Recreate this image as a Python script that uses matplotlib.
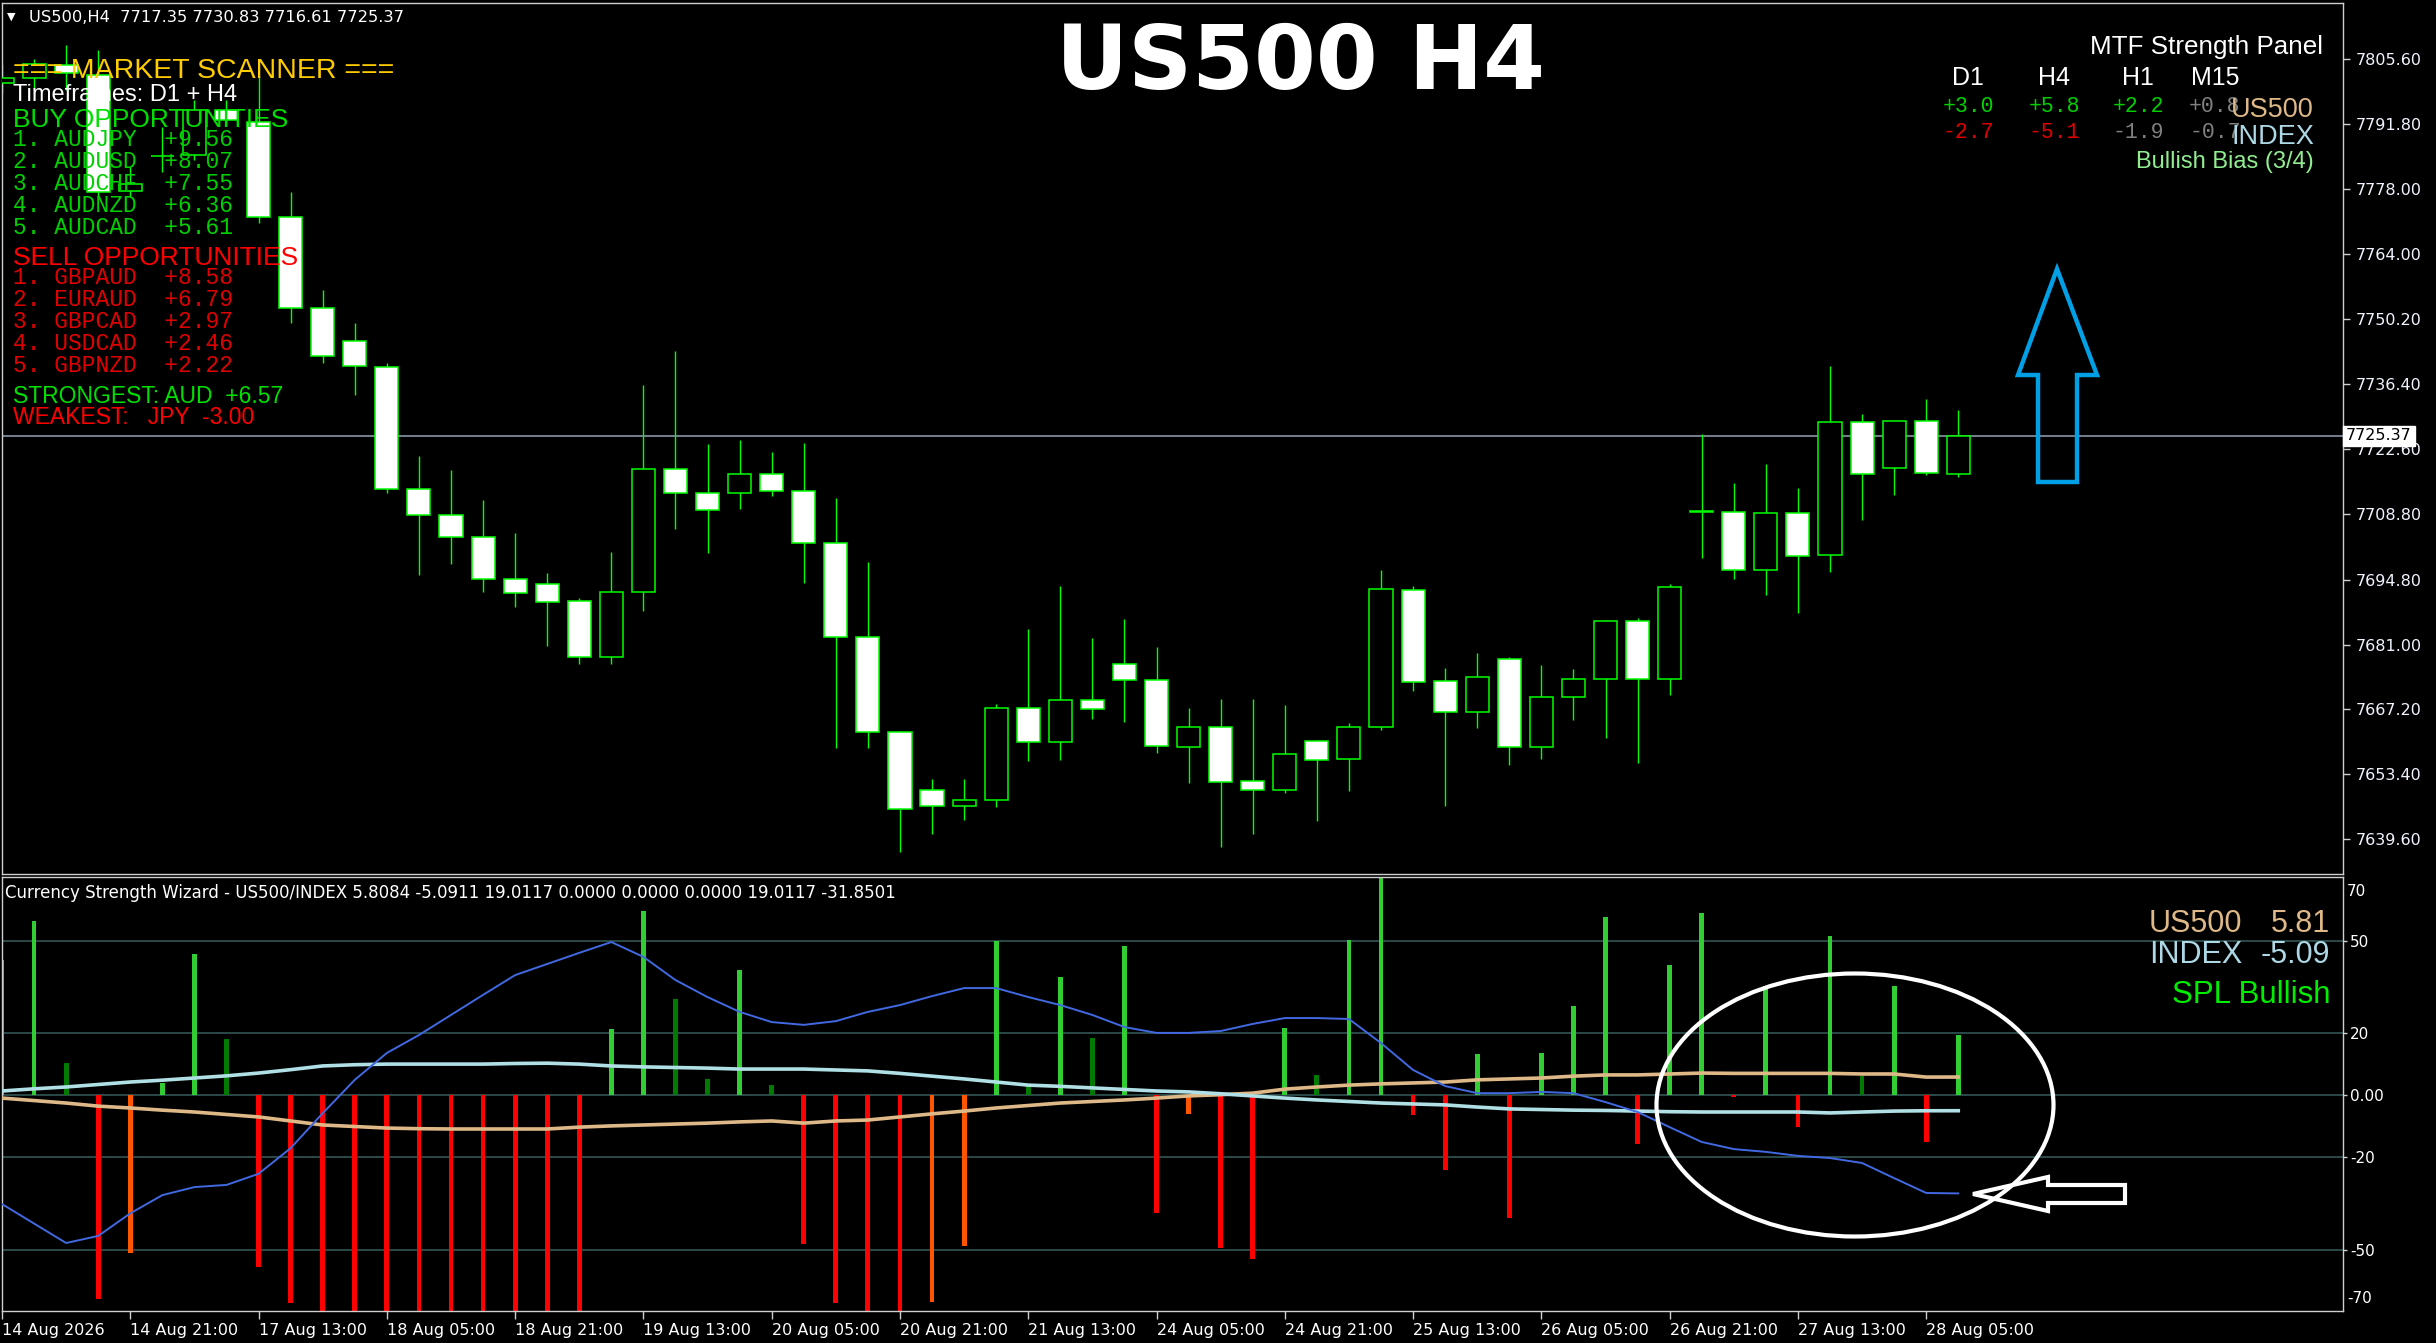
import matplotlib
matplotlib.use('Agg')
import matplotlib.pyplot as plt
from matplotlib.patches import Polygon, Ellipse
import matplotlib.transforms as mtransforms
import numpy as np

W, H = 2436, 1343
DPI = 100

# ---------------- data ----------------
opens = [7800.5, 7801.5, 7804.3, 7802.2, 7777.5, 7785.0, 7785.2, 7794.7, 7792.2, 7772.0,
         7752.6, 7745.6, 7740.1, 7714.1, 7708.6, 7703.9, 7694.9, 7693.9, 7690.3, 7678.4,
         7692.2, 7718.4, 7713.2, 7713.2, 7717.3, 7713.7, 7702.6, 7682.6, 7662.4, 7650.1,
         7646.7, 7647.9, 7667.5, 7660.3, 7669.2, 7676.9, 7673.5, 7659.2, 7663.5, 7652.0,
         7650.1, 7660.5, 7656.7, 7663.5, 7692.6, 7673.2, 7666.7, 7677.9, 7659.2, 7669.8,
         7673.7, 7686.0, 7673.7, 7709.4, 7709.2, 7696.9, 7709.0, 7700.1, 7728.4, 7718.6,
         7728.6, 7717.35]
highs = [7804.3, 7805.6, 7808.6, 7807.5, 7782.6, 7791.1, 7796.9, 7796.9, 7802.0, 7777.3,
         7756.4, 7749.4, 7740.9, 7721.1, 7718.1, 7711.8, 7704.7, 7696.2, 7690.9, 7700.7,
         7736.2, 7743.5, 7723.7, 7724.5, 7722.0, 7723.9, 7712.2, 7698.6, 7662.6, 7652.4,
         7652.4, 7668.4, 7684.3, 7693.5, 7682.4, 7686.4, 7680.5, 7667.5, 7669.4, 7669.4,
         7668.1, 7660.7, 7664.3, 7696.9, 7693.5, 7676.0, 7679.2, 7678.3, 7676.7, 7675.8,
         7686.2, 7686.7, 7693.9, 7725.8, 7715.4, 7719.4, 7714.3, 7740.3, 7730.1, 7728.6,
         7733.2, 7730.83]
lows = [7798.4, 7799.0, 7799.0, 7776.2, 7776.2, 7781.5, 7784.1, 7791.5, 7770.7, 7749.4,
        7740.9, 7734.1, 7713.2, 7695.8, 7698.1, 7692.2, 7689.0, 7680.7, 7676.9, 7676.9,
        7688.1, 7705.6, 7700.5, 7709.8, 7712.6, 7694.1, 7659.0, 7659.0, 7636.9, 7640.7,
        7643.7, 7646.4, 7656.2, 7656.4, 7665.2, 7664.5, 7657.9, 7651.5, 7637.9, 7640.7,
        7649.4, 7643.5, 7649.8, 7662.8, 7671.1, 7646.7, 7663.2, 7655.4, 7656.7, 7664.9,
        7661.1, 7655.8, 7670.3, 7699.4, 7694.9, 7691.5, 7687.7, 7696.4, 7707.5, 7712.8,
        7717.1, 7716.61]
closes = [7801.5, 7804.5, 7802.6, 7777.3, 7779.0, 7784.9, 7794.7, 7792.6, 7772.0, 7752.6,
          7742.4, 7740.3, 7714.1, 7708.6, 7703.9, 7694.9, 7692.0, 7690.1, 7678.4, 7692.2,
          7718.4, 7713.2, 7709.6, 7717.3, 7713.7, 7702.6, 7682.6, 7662.4, 7646.0, 7646.7,
          7647.9, 7667.5, 7660.3, 7669.2, 7667.3, 7673.5, 7659.4, 7663.5, 7651.8, 7650.1,
          7657.7, 7656.4, 7663.5, 7692.8, 7673.0, 7666.7, 7674.1, 7659.2, 7669.8, 7673.7,
          7686.0, 7673.7, 7693.2, 7709.2, 7696.9, 7709.0, 7699.8, 7728.4, 7717.3, 7728.6,
          7717.5, 7725.37]
current_price = 7725.37

price_ticks = [7805.60, 7791.80, 7778.00, 7764.00, 7750.20, 7736.40, 7722.60,
               7708.80, 7694.80, 7681.00, 7667.20, 7653.40, 7639.60]

date_tick_bars = [0, 4, 8, 12, 16, 20, 24, 28, 32, 36, 40, 44, 48, 52, 56, 60]
date_labels = ['14 Aug 2026', '14 Aug 21:00', '17 Aug 13:00', '18 Aug 05:00', '18 Aug 21:00',
               '19 Aug 13:00', '20 Aug 05:00', '20 Aug 21:00', '21 Aug 13:00', '24 Aug 05:00',
               '24 Aug 21:00', '25 Aug 13:00', '26 Aug 05:00', '26 Aug 21:00', '27 Aug 13:00',
               '28 Aug 05:00']

hist_values = [43.7, 56.3, 10.4, -66.0, -51.1, 3.9, 45.6, 18.1, -55.7, -67.3,
               -75, -75, -75, -75, -75, -75, -75, -75, -75, 21.4,
               59.5, 31.1, 5.2, 40.5, 3.2, -48.2, -67.3, -75, -75, -67.0,
               -48.9, 49.8, 3.6, 38.2, 18.4, 48.2, -38.2, -6.1, -49.5, -53.1,
               21.7, 6.5, 50.2, 75, -6.5, -24.3, 13.3, -39.8, 13.6, 28.8,
               57.6, -15.9, 42.1, 58.9, -0.5, 35.3, -10.4, 51.5, 6.1, 35.3,
               -15.2, 19.4]
# signal strength of each histogram bar: 's' strong, 'w' weak
hist_strength = ['s', 's', 'w', 's', 'w', 's', 's', 'w', 's', 's',
                 's', 's', 's', 's', 's', 's', 's', 's', 's', 's',
                 's', 'w', 'w', 's', 'w', 's', 's', 's', 's', 'w',
                 'w', 's', 'w', 's', 'w', 's', 's', 'w', 's', 's',
                 's', 'w', 's', 's', 's', 's', 's', 's', 's', 's',
                 's', 's', 's', 's', 's', 's', 's', 's', 'w', 's',
                 's', 's']
spl_line = [-35.3, -41.6, -47.9, -45.6, -38.3, -32.4, -29.8, -29.1, -25.5, -17.2,
            -5.9, 4.9, 13.6, 19.4, 25.9, 32.4, 38.8, 42.4, 46.0, 49.5,
            44.7, 37.2, 31.7, 26.9, 23.6, 22.7, 23.9, 26.9, 29.1, 32.0,
            34.6, 34.6, 31.7, 29.1, 25.9, 22.0, 20.1, 20.1, 20.7, 23.0,
            24.9, 24.9, 24.6, 16.8, 8.1, 2.9, 0.6, 0.6, 1.0, 0.6,
            -2.3, -5.5, -10.4, -15.2, -17.5, -18.4, -19.7, -20.4, -22.0, -26.9,
            -31.7, -31.85]
index_line = [1.3, 2.0, 2.6, 3.4, 4.2, 4.8, 5.5, 6.2, 7.1, 8.2,
              9.4, 9.8, 10.0, 10.0, 10.0, 10.0, 10.2, 10.3, 10.0, 9.4,
              9.1, 8.9, 8.7, 8.4, 8.4, 8.4, 8.1, 7.8, 7.0, 6.1,
              5.2, 4.2, 3.2, 2.8, 2.3, 1.8, 1.3, 1.0, 0.4, -0.3,
              -1.0, -1.6, -2.1, -2.6, -2.9, -3.2, -3.9, -4.5, -4.7, -4.9,
              -5.0, -5.2, -5.4, -5.5, -5.5, -5.5, -5.5, -5.8, -5.5, -5.2,
              -5.1, -5.09]
us500_line = [-1.0, -1.8, -2.6, -3.6, -4.2, -4.9, -5.5, -6.3, -7.1, -8.4,
              -9.7, -10.2, -10.7, -10.9, -11.0, -11.0, -11.0, -11.0, -10.4, -10.0,
              -9.7, -9.4, -9.1, -8.7, -8.4, -9.1, -8.4, -8.1, -7.1, -6.1,
              -5.2, -4.2, -3.4, -2.6, -2.1, -1.6, -1.0, -0.3, 0.1, 0.6,
              1.9, 2.6, 3.2, 3.6, 3.9, 4.2, 4.9, 5.2, 5.5, 6.1,
              6.5, 6.5, 6.8, 7.1, 7.0, 7.0, 7.0, 7.0, 6.8, 6.8,
              5.8, 5.81]
ind_levels = [50, 20, 0, -20, -50]

buy_pairs = ['AUDJPY', 'AUDUSD', 'AUDCHF', 'AUDNZD', 'AUDCAD']
buy_scores = [9.56, 8.07, 7.55, 6.36, 5.61]
sell_pairs = ['GBPAUD', 'EURAUD', 'GBPCAD', 'USDCAD', 'GBPNZD']
sell_scores = [8.58, 6.79, 2.97, 2.46, 2.22]

mtf_tfs = ['D1', 'H4', 'H1', 'M15']
mtf_us500 = [3.0, 5.8, 2.2, 0.8]
mtf_index = [-2.7, -5.1, -1.9, -0.7]

# ---------------- figure ----------------
fig = plt.figure(figsize=(W / DPI, H / DPI), dpi=DPI, facecolor='black')

def fx(x):
    return x / W

def fy(y):
    return 1 - y / H

def ftext(x, y, s, **kw):
    return fig.text(fx(x), fy(y), s, **kw)

SANS = ['Liberation Sans', 'DejaVu Sans']
MONO = ['Liberation Mono', 'DejaVu Sans Mono']
UI = ['DejaVu Sans']
SPINE = '#cfcfcf'

ax = fig.add_axes([fx(2), fy(874), (2343 - 2) / W, (874 - 3) / H], facecolor='black')
ax2 = fig.add_axes([fx(2), fy(1311), (2343 - 2) / W, (1311 - 877) / H], facecolor='black')

n = len(opens)
idx = np.arange(n)
o = np.array(opens); c = np.array(closes); hi = np.array(highs); lo = np.array(lows)

XMAX = (2343 - 2) / 32.07
for a in (ax, ax2):
    a.set_xlim(0, XMAX)
    for s in a.spines.values():
        s.set_color(SPINE)
        s.set_linewidth(1.0)

# ---- main chart ----
ax.set_ylim(7632.17, 7817.5)
ax.axhline(current_price, color='#8a96a8', lw=1.2, zorder=1)
ax.vlines(idx, lo, hi, color='#00ff00', lw=1.0, zorder=2)
bull = c >= o
bottoms = np.minimum(o, c)
heights = np.maximum(np.abs(c - o), 0.15)
ax.bar(idx, heights, bottom=bottoms, width=0.72,
       color=np.where(bull, 'black', 'white'), edgecolor='#00ff00',
       linewidth=1.1, zorder=3)

ax.set_xticks([])
ax.yaxis.tick_right()
ax.set_yticks(price_ticks, [f'{v:.2f}' for v in price_ticks])
ax.tick_params(axis='y', direction='out', length=5, width=1, color=SPINE,
               labelcolor='#f0f4ff', labelsize=11.5, pad=4)
for lab in ax.get_yticklabels():
    lab.set_family(UI)

trans = mtransforms.blended_transform_factory(ax.transAxes, ax.transData)
ax.text(1.0 + 3 / 2341, current_price, f'{current_price:.2f}', transform=trans,
        ha='left', va='center', fontsize=11.5, family=UI, color='black',
        bbox=dict(boxstyle='square,pad=0.18', fc='white', ec='white'),
        zorder=10, clip_on=False)

# ---- indicator ----
ax2.set_ylim(-69.9, 70.55)
for lv in ind_levels:
    ax2.axhline(lv, color='#2f4f4f', lw=1.3, zorder=1)
hv = np.array(hist_values)
bar_cols = []
for v, s in zip(hist_values, hist_strength):
    if v >= 0:
        bar_cols.append('#32cd32' if s == 's' else '#007a00')
    else:
        bar_cols.append('#ff0000' if s == 's' else '#ff5500')
ax2.bar(idx, hv, width=0.15, color=bar_cols, zorder=2)
ax2.plot(idx, us500_line, color='#deb887', lw=2.6, zorder=3)
ax2.plot(idx, index_line, color='#b0e0e6', lw=2.6, zorder=3)
ax2.plot(idx, spl_line, color='#4169e1', lw=1.4, zorder=4)

ax2.yaxis.tick_right()
ax2.set_yticks(ind_levels, ['50', '20', '0.00', '-20', '-50'])
ax2.tick_params(axis='y', direction='out', length=3, width=1, color=SPINE,
                labelcolor='white', labelsize=11, pad=2)
trans2 = mtransforms.blended_transform_factory(ax2.transAxes, ax2.transData)
ax2.text(1.0 + 4 / 2341, 66, '70', transform=trans2, ha='left', va='center',
         fontsize=11, color='white', family=UI, clip_on=False)
ax2.text(1.0 + 4 / 2341, -66, '-70', transform=trans2, ha='left', va='center',
         fontsize=11, color='white', family=UI, clip_on=False)
ax2.set_xticks(date_tick_bars, date_labels, ha='left')
ax2.tick_params(axis='x', direction='out', length=6, width=1, color=SPINE,
                labelcolor='white', labelsize=11.5, pad=3)
for lab in ax2.get_xticklabels() + ax2.get_yticklabels():
    lab.set_family(UI)

# ---------------- texts ----------------
ftext(11, 17, '\u25bc', color='white', fontsize=8, family=UI, ha='center', va='center')
ftext(29, 18, f'US500,H4  {opens[-1]:.2f} {highs[-1]:.2f} {lows[-1]:.2f} {closes[-1]:.2f}',
      color='white', fontsize=11.7, family=UI, ha='left', va='center')

ftext(1300, 89, 'US500 H4', color='white', fontsize=64, fontweight='bold',
      family=['DejaVu Sans'], ha='center', va='baseline')

ftext(13, 71, '=== MARKET SCANNER ===', color='#ffcc00', fontsize=20.5, family=SANS, va='center')
ftext(13, 95, 'Timeframes: D1 + H4', color='white', fontsize=17, family=SANS, va='center')
ftext(13, 120, 'BUY OPPORTUNITIES', color='#00e000', fontsize=19, family=SANS, va='center')
for i, (p, s) in enumerate(zip(buy_pairs, buy_scores)):
    ftext(13, 139 + 22 * i, f'{i + 1}. {p}  +{s:.2f}', color='#00d000', fontsize=16.5,
          family=MONO, va='center')
ftext(13, 258, 'SELL OPPORTUNITIES', color='#ff0000', fontsize=19, family=SANS, va='center')
for i, (p, s) in enumerate(zip(sell_pairs, sell_scores)):
    ftext(13, 277 + 22 * i, f'{i + 1}. {p}  +{s:.2f}', color='#e00000', fontsize=16.5,
          family=MONO, va='center')
ftext(13, 396, 'STRONGEST: AUD  +6.57', color='#00e000', fontsize=16.5, family=SANS, va='center')
ftext(13, 417, 'WEAKEST:   JPY  -3.00', color='#ff0000', fontsize=16.5, family=SANS, va='center')

# MTF panel
ftext(2323, 47, 'MTF Strength Panel', color='white', fontsize=18.7, family=SANS,
      ha='right', va='center')
col_x = [1968, 2054, 2138, 2215]
for x, tf, a, b in zip(col_x, mtf_tfs, mtf_us500, mtf_index):
    ftext(x, 78, tf, color='white', fontsize=18, family=SANS, ha='center', va='center')
    ca = '#00d000' if a >= 1 else '#808080'
    cb = '#e00000' if b <= -2 else '#808080'
    ftext(x, 107, f'{a:+.1f}', color=ca, fontsize=15.5, family=MONO, ha='center', va='center')
    ftext(x, 133, f'{b:+.1f}', color=cb, fontsize=15.5, family=MONO, ha='center', va='center')
ftext(2314, 110, 'US500', color='#deb887', fontsize=19.5, family=SANS, ha='right', va='center', zorder=5)
ftext(2314, 137, 'INDEX', color='#add8e6', fontsize=19.5, family=SANS, ha='right', va='center', zorder=5)
ftext(2314, 162, 'Bullish Bias (3/4)', color='#90ee90', fontsize=17, family=SANS, ha='right', va='center')

# indicator header & legend
ftext(5, 893, 'Currency Strength Wizard - US500/INDEX 5.8084 -5.0911 19.0117 0.0000 0.0000 '
      '0.0000 19.0117 -31.8501', color='white', fontsize=12, family=UI, ha='left', va='center')
ftext(2242, 924, 'US500', color='#deb887', fontsize=22, family=SANS, ha='right', va='center')
ftext(2330, 924, f'{us500_line[-1]:.2f}', color='#deb887', fontsize=22, family=SANS, ha='right', va='center')
ftext(2242, 955, 'INDEX', color='#add8e6', fontsize=22, family=SANS, ha='right', va='center')
ftext(2330, 955, f'{index_line[-1]:.2f}', color='#add8e6', fontsize=22, family=SANS, ha='right', va='center')
ftext(2330, 995, 'SPL Bullish', color='#00ee00', fontsize=22.5, family=SANS, ha='right', va='center')

# ---------------- drawn annotations ----------------
up_arrow = [(2057, 269), (2097, 375), (2077, 375), (2077, 482), (2038, 482), (2038, 375), (2018, 375)]
fig.add_artist(Polygon([(fx(x), fy(y)) for x, y in up_arrow], closed=True, fill=False,
                       edgecolor='#00a0e6', lw=3.2, joinstyle='miter', transform=fig.transFigure))
fig.add_artist(Ellipse((fx(1855), fy(1105)), 397 / W, 263 / H, fill=False, edgecolor='white',
                       lw=3.0, transform=fig.transFigure))
left_arrow = [(1973, 1194), (2048, 1177), (2048, 1185), (2125, 1185), (2125, 1203), (2048, 1203), (2048, 1211)]
fig.add_artist(Polygon([(fx(x), fy(y)) for x, y in left_arrow], closed=True, fill=False,
                       edgecolor='white', lw=3.0, joinstyle='miter', transform=fig.transFigure))

fig.savefig('out.png', dpi=DPI, facecolor='black')
